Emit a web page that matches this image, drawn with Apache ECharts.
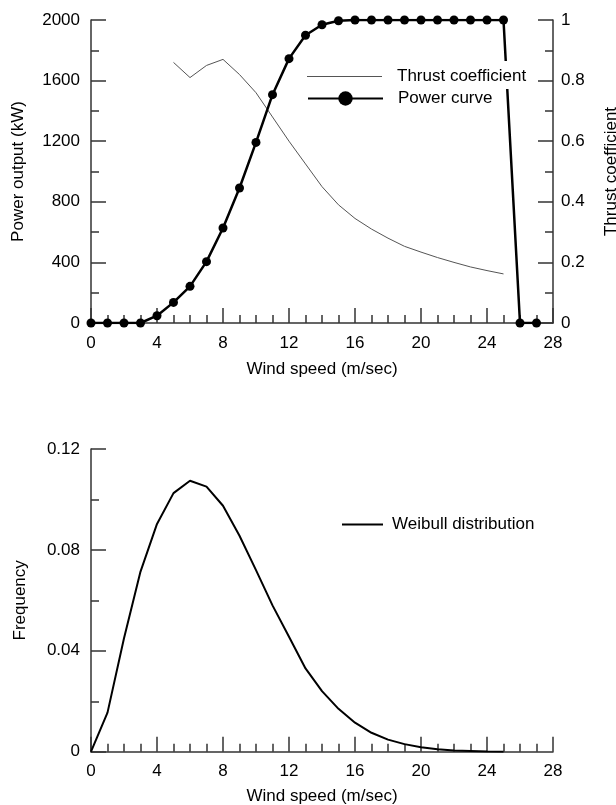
<!DOCTYPE html>
<html>
<head>
<meta charset="utf-8">
<script src="https://cdn.jsdelivr.net/npm/echarts@6/dist/echarts.min.js"></script>
<style>
  html, body { margin: 0; padding: 0; background: #fff; }
  #chart { width: 616px; height: 805px; }
</style>
</head>
<body>
<div id="chart"></div>
<script>
// wind speed steps (m/sec)
const windSpeed = [0, 1, 2, 3, 4, 5, 6, 7, 8, 9, 10, 11, 12, 13, 14, 15, 16, 17, 18, 19, 20, 21, 22, 23, 24, 25, 26, 27]
const powerKW = [0, 0, 0, 0, 48, 136, 242, 405, 627, 891, 1192, 1507, 1745, 1899, 1969, 1995,
  2000, 2000, 2000, 2000, 2000, 2000, 2000, 2000, 2000, 2000, 0, 0]

const thrustSpeed = [5, 6, 7, 8, 9, 10, 11, 12, 13, 14, 15, 16, 17, 18, 19, 20, 21, 22, 23, 24, 25]
const thrustCoef = [0.86, 0.81, 0.85, 0.87, 0.82, 0.76, 0.68, 0.60, 0.525, 0.45, 0.39, 0.345,
  0.31, 0.28, 0.253, 0.234, 0.216, 0.20, 0.185, 0.173, 0.162]

const weibullSpeed = [0, 1, 2, 3, 4, 5, 6, 7, 8, 9, 10, 11, 12, 13, 14, 15, 16, 17, 18, 19, 20, 21, 22, 23, 24, 25]
const weibullFreq = [0, 0.0155, 0.045, 0.0714, 0.0903, 0.1025, 0.1074, 0.1051, 0.0975, 0.0856,
  0.072, 0.058, 0.0456, 0.033, 0.024, 0.017, 0.0115, 0.0075, 0.0048, 0.003, 0.0018, 0.001,
  0.0005, 0.0003, 0.0001, 0]

const FONT = "'Liberation Sans', Arial, Helvetica, sans-serif"
const AXIS_COLOR = '#333'

function pairs (xs, ys) {
  return xs.map((x, i) => [x, ys[i]])
}

// plain numbers, no thousands separator
function plain (v) {
  return String(+v.toFixed(4))
}

// shared look of every axis: inward ticks, minor ticks, no grid lines
function axisBase (extra, minorSplit, labelMargin) {
  return Object.assign({
    type: 'value',
    nameLocation: 'middle',
    nameTextStyle: { color: '#000', fontSize: 17, fontFamily: FONT },
    axisLine: { show: true, onZero: false, lineStyle: { color: AXIS_COLOR, width: 1.5 } },
    axisTick: { show: true, inside: true, length: 15, lineStyle: { color: AXIS_COLOR, width: 1.5 } },
    minorTick: { show: true, splitNumber: minorSplit, length: 8, lineStyle: { color: AXIS_COLOR, width: 1.5 } },
    axisLabel: { color: '#000', fontSize: 17, fontFamily: FONT, margin: labelMargin, formatter: plain },
    splitLine: { show: false },
    minorSplitLine: { show: false }
  }, extra)
}

const chart = echarts.init(document.getElementById('chart'))

const option = {
  backgroundColor: '#fff',
  animation: false,
  textStyle: { fontFamily: FONT },
  grid: [
    { left: 91, top: 20, width: 462, height: 303, containLabel: false, outerBoundsMode: 'none' },
    { left: 91, top: 449, width: 462, height: 302.7, containLabel: false, outerBoundsMode: 'none' }
  ],
  legend: [
    {
      data: ['Thrust coefficient'],
      left: 303,
      top: 61,
      padding: [7, 4, 4, 4],
      backgroundColor: '#fff',
      icon: 'rect',
      itemWidth: 75,
      itemHeight: 1,
      textStyle: { color: '#000', fontSize: 17, fontFamily: FONT, padding: [0, 0, 0, 10] }
    },
    {
      data: ['Power curve'],
      left: 303,
      top: 88,
      padding: [2, 4, 7, 4],
      backgroundColor: '#fff',
      itemWidth: 75,
      itemHeight: 18,
      textStyle: { color: '#000', fontSize: 17, fontFamily: FONT, padding: [0, 0, 0, 10] }
    },
    {
      data: ['Weibull distribution'],
      left: 338,
      top: 512,
      padding: 4,
      icon: 'rect',
      itemWidth: 41,
      itemHeight: 2,
      textStyle: { color: '#000', fontSize: 17, fontFamily: FONT, padding: [0, 0, 0, 4] }
    }
  ],
  xAxis: [
    axisBase({ gridIndex: 0, min: 0, max: 28, interval: 4, name: 'Wind speed (m/sec)', nameGap: 38 }, 4, 12),
    axisBase({ gridIndex: 1, min: 0, max: 28, interval: 4, name: 'Wind speed (m/sec)', nameGap: 36 }, 4, 11)
  ],
  yAxis: [
    axisBase({ gridIndex: 0, min: 0, max: 2000, interval: 400, name: 'Power output (kW)', nameGap: 64 }, 2, 11),
    axisBase({ gridIndex: 0, position: 'right', min: 0, max: 1, interval: 0.2, name: 'Thrust coefficient', nameGap: 50 }, 2, 8),
    axisBase({ gridIndex: 1, min: 0, max: 0.12, interval: 0.04, name: 'Frequency', nameGap: 62 }, 2, 11)
  ],
  series: [
    {
      name: 'Thrust coefficient',
      type: 'line',
      xAxisIndex: 0,
      yAxisIndex: 1,
      symbol: 'none',
      itemStyle: { color: '#555' },
      lineStyle: { color: '#555', width: 1 },
      data: pairs(thrustSpeed, thrustCoef)
    },
    {
      name: 'Power curve',
      type: 'line',
      xAxisIndex: 0,
      yAxisIndex: 0,
      symbol: 'circle',
      symbolSize: 9,
      itemStyle: { color: '#000' },
      lineStyle: { color: '#000', width: 2.5 },
      data: pairs(windSpeed, powerKW)
    },
    {
      name: 'Weibull distribution',
      type: 'line',
      xAxisIndex: 1,
      yAxisIndex: 2,
      symbol: 'none',
      itemStyle: { color: '#000' },
      lineStyle: { color: '#000', width: 2 },
      data: pairs(weibullSpeed, weibullFreq)
    }
  ]
}

chart.setOption(option)
</script>
</body>
</html>
